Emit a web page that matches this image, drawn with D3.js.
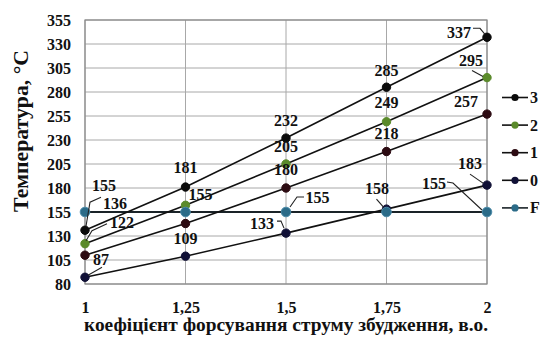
<!DOCTYPE html>
<html>
<head>
<meta charset="utf-8">
<script src="https://cdn.jsdelivr.net/npm/d3@7"></script>
<style>
  html, body { margin: 0; padding: 0; background: #fff; }
  svg { display: block; }
  text { font-family: "Liberation Serif", "Times New Roman", serif; font-weight: bold; fill: #111; }
</style>
</head>
<body>
<svg id="chart" width="543" height="340"></svg>
<script>
// Excitation forcing coefficient (x categories)
const categories = ["1", "1,25", "1,5", "1,75", "2"];
// Y axis ticks, °C
const yTicks = [80, 105, 130, 155, 180, 205, 230, 255, 280, 305, 330, 355];

// Temperature per series
const series3 = [136, 181, 232, 285, 337];
const series2 = [122, 162, 205, 249, 295];
const series1 = [110, 143, 180, 218, 257];
const series0 = [87, 109, 133, 158, 183];
const seriesF = [155, 155, 155, 155, 155];

// Which points carry a value label
const labeled3 = [true, true, true, true, true];
const labeled2 = [true, false, true, true, true];
const labeled1 = [false, false, true, true, true];
const labeled0 = [true, true, true, true, true];
const labeledF = [true, true, true, false, true];

const seriesNames = ["3", "2", "1", "0", "F"];

// ---- layout / styling (kept apart from the values) ----
const W = 543, H = 340;
const plot = { left: 85, right: 487, top: 20, bottom: 284 };
const markerColors = { "3": "#0b0b0b", "2": "#5a8a2a", "1": "#2c0b12", "0": "#101036", "F": "#2b6b88" };
const lineColors = { "3": "#111", "2": "#111", "1": "#111", "0": "#111", "F": "#1a2328" };
const lineWidths = { "3": 1.6, "2": 1.6, "1": 1.6, "0": 1.6, "F": 2.2 };
const markerR = { "3": 4.2, "2": 4.2, "1": 4.2, "0": 4.2, "F": 4.8 };

// label offsets [dx, dy] from the point, and optional leader polylines
const labelPlace = {
  "3": [[30, -27], [0, -20], [0, -18], [0, -17], [-28, -5]],
  "2": [[37, -21], null, [0, -18], [0, -19], [-16, -17]],
  "1": [null, null, [0, -19], [0, -18.5], [-21, -13]],
  "0": [[16, -18], [0, -18], [-24, -10], [-9.5, -21], [-17, -22]],
  "F": [[19, -27], [15, -18], [31.5, -14.5], null, [-53, -29]]
};
const leaders = {
  "3": [[[1, -4], [5, -28], [16, -33]], null, null, null, [[-14, -9], [-7, -9], [-2, -3]]],
  "2": [[[1, -3], [7, -13], [22, -20]], null, null, null, [[-15, -7], [-4, -1]]],
  "1": [null, null, null, null, null],
  "0": [[[3, -2], [17, -10]], null, [[-9, -12], [-5, -12], [-2, -5]], [[-10, -10], [-3, -2]], [[-17, -11], [-4, -2]]],
  "F": [null, null, [[18, -15], [11, -15], [4, -5]], null, [[-40, -30], [-34, -29], [-5, -2]]]
};

const svg = d3.select("#chart");

const x = d3.scalePoint().domain(categories).range([plot.left, plot.right]);
const y = d3.scaleLinear().domain([80, 355]).range([plot.bottom, plot.top]);

// grid
const grid = svg.append("g");
grid.selectAll("line.h").data(yTicks).join("line")
  .attr("x1", plot.left).attr("x2", plot.right)
  .attr("y1", d => y(d)).attr("y2", d => y(d))
  .attr("stroke", "#a8a8a8").attr("stroke-width", 1);
grid.selectAll("line.v").data(categories).join("line")
  .attr("x1", d => x(d)).attr("x2", d => x(d))
  .attr("y1", plot.top).attr("y2", plot.bottom)
  .attr("stroke", "#a8a8a8").attr("stroke-width", 1);
svg.append("rect")
  .attr("x", plot.left).attr("y", plot.top)
  .attr("width", plot.right - plot.left).attr("height", plot.bottom - plot.top)
  .attr("fill", "none").attr("stroke", "#8a8a8a").attr("stroke-width", 1.2);

// axes
const yAxis = svg.append("g")
  .attr("transform", `translate(${plot.left},0)`)
  .call(d3.axisLeft(y).tickValues(yTicks).tickSize(0).tickPadding(14));
yAxis.select(".domain").remove();
yAxis.selectAll("text").style("font-size", "16px").style("font-family", null).attr("fill", "#111");

const xAxis = svg.append("g")
  .attr("transform", `translate(0,${plot.bottom})`)
  .call(d3.axisBottom(x).tickSize(0).tickPadding(18));
xAxis.select(".domain").remove();
xAxis.selectAll("text").style("font-size", "16px").style("font-family", null).attr("fill", "#111");

// axis titles
svg.append("text")
  .attr("transform", "translate(28,131) rotate(-90)")
  .attr("text-anchor", "middle")
  .attr("textLength", 162).attr("lengthAdjust", "spacingAndGlyphs")
  .style("font-size", "20px")
  .text("Температура, °C");
svg.append("text")
  .attr("x", (plot.left + plot.right) / 2).attr("y", 331)
  .attr("text-anchor", "middle")
  .attr("textLength", 404).attr("lengthAdjust", "spacingAndGlyphs")
  .style("font-size", "18px")
  .text("коефіцієнт форсування струму збудження, в.о.");

const allSeries = [
  { name: "3", values: series3, labeled: labeled3 },
  { name: "2", values: series2, labeled: labeled2 },
  { name: "1", values: series1, labeled: labeled1 },
  { name: "0", values: series0, labeled: labeled0 },
  { name: "F", values: seriesF, labeled: labeledF }
];

const line = d3.line().x(d => x(d.c)).y(d => y(d.v));

// lines: F first so the rising series sit over it
["F", "0", "1", "2", "3"].forEach(name => {
  const s = allSeries.find(a => a.name === name);
  const pts = s.values.map((v, i) => ({ c: categories[i], v }));
  svg.append("path").datum(pts)
    .attr("d", line).attr("fill", "none")
    .attr("stroke", lineColors[name]).attr("stroke-width", lineWidths[name]);
});
// markers: F last so its points stay visible where lines cross it
["0", "1", "2", "3", "F"].forEach(name => {
  const s = allSeries.find(a => a.name === name);
  const pts = s.values.map((v, i) => ({ c: categories[i], v }));
  svg.append("g").selectAll("circle").data(pts).join("circle")
    .attr("cx", d => x(d.c)).attr("cy", d => y(d.v))
    .attr("r", markerR[name])
    .attr("fill", markerColors[name])
    .attr("stroke", name === "F" ? "#4a8aa8" : markerColors[name])
    .attr("stroke-width", 1);
});

// leaders and value labels
allSeries.forEach(s => {
  s.values.forEach((v, i) => {
    if (!s.labeled[i]) return;
    const px = x(categories[i]), py = y(v);
    const ld = leaders[s.name][i];
    if (ld) {
      svg.append("path")
        .attr("d", d3.line()(ld.map(p => [px + p[0], py + p[1]])))
        .attr("fill", "none").attr("stroke", "#222").attr("stroke-width", 1.1);
    }
    const off = labelPlace[s.name][i];
    svg.append("text")
      .attr("x", px + off[0]).attr("y", py + off[1])
      .attr("text-anchor", "middle").attr("dominant-baseline", "central")
      .style("font-size", "16px")
      .text(v);
  });
});

// legend
const legend = svg.append("g");
seriesNames.forEach((name, i) => {
  const ly = 97.5 + i * 27.6;
  const g = legend.append("g").attr("transform", `translate(0,${ly})`);
  g.append("line").attr("x1", 502).attr("x2", 528).attr("y1", 0).attr("y2", 0)
    .attr("stroke", lineColors[name]).attr("stroke-width", 1.6);
  g.append("circle").attr("cx", 515).attr("cy", 0).attr("r", 3.6)
    .attr("fill", markerColors[name]);
  g.append("text").attr("x", 530).attr("y", 0).attr("dominant-baseline", "central")
    .style("font-size", "16px").text(name);
});
</script>
</body>
</html>
